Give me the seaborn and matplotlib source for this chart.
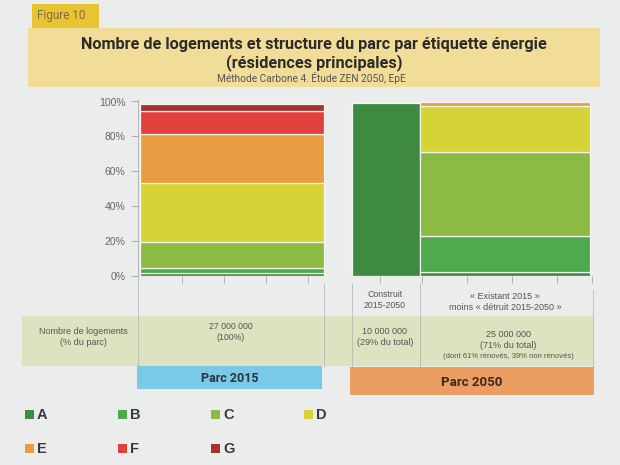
import matplotlib.pyplot as plt
import seaborn as sns
from matplotlib.patches import Rectangle
from matplotlib.lines import Line2D

etiquettes = ['A', 'B', 'C', 'D', 'E', 'F', 'G']
couleurs = ['#3d8a40', '#4eaa4c', '#8cbb44', '#d6d336', '#e99c42', '#e0413a', '#a8302f']

# structure du parc, % par étiquette énergie
parc_2015 = [1.5, 3.0, 14.5, 34.0, 28.5, 13.0, 4.0]
construit_2050 = [99.0, 0, 0, 0, 0, 0, 0]
existant_2050 = [2.0, 20.5, 48.5, 26.5, 2.0, 0, 0]

# nombre de logements (millions) = largeur des barres
logements = [27, 10, 25]

sns.set_theme(style='white')
plt.rcParams['font.family'] = ['Liberation Sans', 'DejaVu Sans']

W, H = 620, 465
def fx(x):
    return x / W
def fy(y):
    return 1 - y / H

bg = '#ebedec'
fig = plt.figure(figsize=(6.2, 4.65), dpi=100, facecolor=bg)

# bandeau titre
fig.add_artist(Rectangle((fx(28), fy(87)), (600 - 28) / W, (87 - 28) / H,
                         transform=fig.transFigure, color='#f1dc98', lw=0, zorder=1))
fig.add_artist(Rectangle((fx(32), fy(28)), (99 - 32) / W, (28 - 4) / H,
                         transform=fig.transFigure, color='#eac332', lw=0, zorder=1))
fig.text(fx(37), fy(16), 'Figure 10', family='Roboto', size=8.5, color='#7d6f45',
         va='center', ha='left')
fig.text(fx(314), fy(45), 'Nombre de logements et structure du parc par étiquette énergie',
         family='Roboto', weight='bold', size=11.7, color='#2b2b2b', ha='center', va='center')
fig.text(fx(314), fy(63), '(résidences principales)',
         family='Roboto', weight='bold', size=11.7, color='#2b2b2b', ha='center', va='center')
fig.text(fx(311), fy(78), 'Méthode Carbone 4. Étude ZEN 2050, EpE',
         family='Roboto', size=7.3, color='#555555', ha='center', va='center')

# barres (marimekko)
ax = fig.add_axes([fx(138), fy(275.5), (595 - 138) / W, (275.5 - 101.5) / H])
ax.set_facecolor(bg)
ecart = 4.0
gauches = [0, logements[0] + ecart, logements[0] + ecart + logements[1]]
for left, width, vals in zip(gauches, logements, [parc_2015, construit_2050, existant_2050]):
    bas = 0
    for v, c in zip(vals, couleurs):
        if v <= 0:
            continue
        ax.bar(left, v, width=width, bottom=bas, align='edge', color=c,
               edgecolor='#f4f4f0', linewidth=0.9)
        bas += v

ax.set_xlim(-0.35, 66.7)
ax.set_ylim(0, 100)
ax.set_yticks(range(0, 101, 20))
ax.set_yticklabels([f'{v}%' for v in range(0, 101, 20)])
ax.set_xticks([6.1, 12.3, 18.5, 24.6, 35.1, 41.3, 47.9, 54.5, 61.1, 66.3])
ax.set_xticklabels([])
ax.tick_params(axis='y', left=True, length=4, width=0.6, color='#999999',
               labelcolor='#666666', labelsize=7.5, pad=5)
ax.tick_params(axis='x', bottom=True, length=5, width=0.6, color='#aaaaaa', direction='out')
for s in ['top', 'right', 'bottom']:
    ax.spines[s].set_visible(False)
ax.spines['left'].set_color('#aaaaaa')
ax.spines['left'].set_linewidth(0.6)
ax.spines['left'].set_bounds(0, 101)

# tableau sous le graphique
fig.add_artist(Rectangle((fx(22), fy(366)), (593 - 22) / W, (366 - 316) / H,
                         transform=fig.transFigure, color='#dde3c0', lw=0, zorder=1))
for x, y0 in [(138, 276), (323.5, 283), (351.5, 283), (419.5, 283), (593, 290)]:
    fig.add_artist(Line2D([fx(x), fx(x)], [fy(y0), fy(367)], transform=fig.transFigure,
                          color='#b0b0b0', lw=0.5, zorder=2))

txt = dict(color='#555555', ha='center', va='center', linespacing=1.25)
fig.text(fx(385), fy(300), 'Construit\n2015-2050', size=6.3, **txt)
fig.text(fx(505), fy(302), '« Existant 2015 »\nmoins « détruit 2015-2050 »', size=6.5, **txt)
fig.text(fx(83), fy(337), 'Nombre de logements\n(% du parc)', size=6.5, **txt)
fig.text(fx(231), fy(332), '27 000 000\n(100%)', size=6.3, **txt)
fig.text(fx(385), fy(337), '10 000 000\n(29% du total)', size=6.5, **txt)
fig.text(fx(508), fy(340), '25 000 000\n(71% du total)', size=6.5, **txt)
fig.text(fx(508), fy(356), '(dont 61% rénovés, 39% non rénovés)', size=5.5, **txt)

fig.add_artist(Rectangle((fx(137), fy(389)), (322 - 137) / W, (389 - 366) / H,
                         transform=fig.transFigure, color='#7ac9e7', lw=0, zorder=1))
fig.text(fx(230), fy(378), 'Parc 2015', family='Roboto', weight='bold', size=9,
         color='#2a3540', ha='center', va='center')
fig.add_artist(Rectangle((fx(350), fy(395)), (594 - 350) / W, (395 - 367) / H,
                         transform=fig.transFigure, color='#eb9d62', lw=0, zorder=1))
fig.text(fx(472), fy(382), 'Parc 2050', family='Roboto', weight='bold', size=9.5,
         color='#3a2a20', ha='center', va='center')

# légende
for i, (lab, c) in enumerate(zip(etiquettes, couleurs)):
    r, k = divmod(i, 4)
    x0 = 25 + 93 * k
    y0 = 410 + 34 * r
    fig.add_artist(Rectangle((fx(x0), fy(y0 + 9)), 9 / W, 9 / H,
                             transform=fig.transFigure, color=c, lw=0, zorder=1))
    fig.text(fx(x0 + 12), fy(y0 + 5), lab, size=10.5, weight='bold', color='#3a3a3a',
             ha='left', va='center')

fig.savefig('out.png', dpi=100, facecolor=bg)
